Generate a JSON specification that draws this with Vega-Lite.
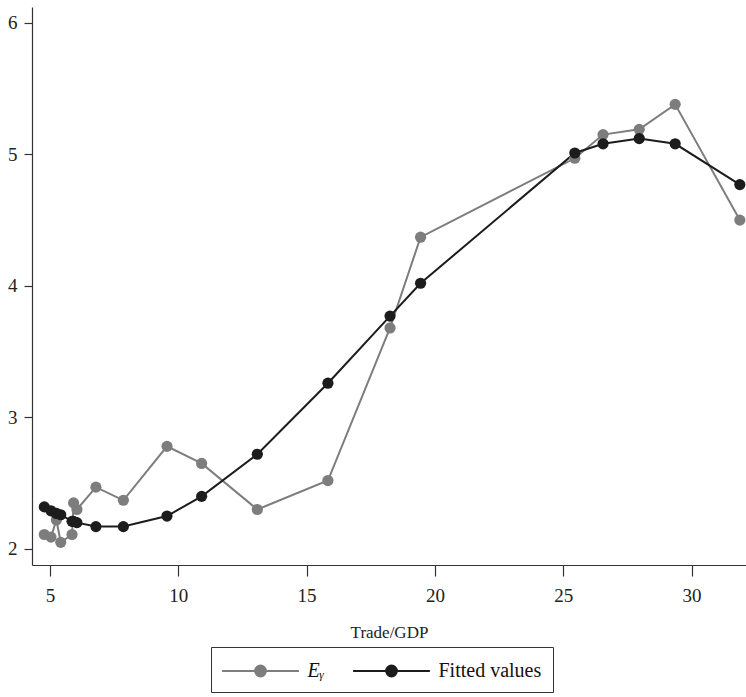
{
  "$schema": "https://vega.github.io/schema/vega-lite/v6.json",
  "width": 714,
  "height": 558,
  "autosize": {"type": "none"},
  "padding": {"left": 32, "top": 7, "right": 0, "bottom": 132},
  "background": "white",
  "data": {
    "values": [
      {"x": 4.78, "series": "Eᵧ", "y": 2.11},
      {"x": 5.04, "series": "Eᵧ", "y": 2.09},
      {"x": 5.25, "series": "Eᵧ", "y": 2.22},
      {"x": 5.42, "series": "Eᵧ", "y": 2.05},
      {"x": 5.86, "series": "Eᵧ", "y": 2.11},
      {"x": 5.92, "series": "Eᵧ", "y": 2.35},
      {"x": 6.05, "series": "Eᵧ", "y": 2.30},
      {"x": 6.79, "series": "Eᵧ", "y": 2.47},
      {"x": 7.86, "series": "Eᵧ", "y": 2.37},
      {"x": 9.56, "series": "Eᵧ", "y": 2.78},
      {"x": 10.91, "series": "Eᵧ", "y": 2.65},
      {"x": 13.08, "series": "Eᵧ", "y": 2.30},
      {"x": 15.83, "series": "Eᵧ", "y": 2.52},
      {"x": 18.25, "series": "Eᵧ", "y": 3.68},
      {"x": 19.44, "series": "Eᵧ", "y": 4.37},
      {"x": 25.45, "series": "Eᵧ", "y": 4.97},
      {"x": 26.55, "series": "Eᵧ", "y": 5.15},
      {"x": 27.96, "series": "Eᵧ", "y": 5.19},
      {"x": 29.36, "series": "Eᵧ", "y": 5.38},
      {"x": 31.88, "series": "Eᵧ", "y": 4.50},
      {"x": 4.78, "series": "Fitted values", "y": 2.32},
      {"x": 5.04, "series": "Fitted values", "y": 2.29},
      {"x": 5.25, "series": "Fitted values", "y": 2.27},
      {"x": 5.42, "series": "Fitted values", "y": 2.26},
      {"x": 5.86, "series": "Fitted values", "y": 2.21},
      {"x": 5.92, "series": "Fitted values", "y": 2.21},
      {"x": 6.05, "series": "Fitted values", "y": 2.20},
      {"x": 6.79, "series": "Fitted values", "y": 2.17},
      {"x": 7.86, "series": "Fitted values", "y": 2.17},
      {"x": 9.56, "series": "Fitted values", "y": 2.25},
      {"x": 10.91, "series": "Fitted values", "y": 2.40},
      {"x": 13.08, "series": "Fitted values", "y": 2.72},
      {"x": 15.83, "series": "Fitted values", "y": 3.26},
      {"x": 18.25, "series": "Fitted values", "y": 3.77},
      {"x": 19.44, "series": "Fitted values", "y": 4.02},
      {"x": 25.45, "series": "Fitted values", "y": 5.01},
      {"x": 26.55, "series": "Fitted values", "y": 5.08},
      {"x": 27.96, "series": "Fitted values", "y": 5.12},
      {"x": 29.36, "series": "Fitted values", "y": 5.08},
      {"x": 31.88, "series": "Fitted values", "y": 4.77}
    ]
  },
  "mark": {"type": "line", "strokeWidth": 2, "point": {"filled": true, "size": 125, "opacity": 1}},
  "encoding": {
    "x": {
      "field": "x", "type": "quantitative",
      "scale": {"domain": [4.3, 32.12], "nice": false, "zero": false},
      "axis": {"title": "Trade/GDP", "values": [5, 10, 15, 20, 25, 30], "tickSize": 11, "labelPadding": 10, "titlePadding": 19}
    },
    "y": {
      "field": "y", "type": "quantitative",
      "scale": {"domain": [1.878, 6.12], "nice": false, "zero": false},
      "axis": {"title": null, "values": [2, 3, 4, 5, 6], "tickSize": 8, "labelPadding": 7}
    },
    "color": {
      "field": "series", "type": "nominal",
      "scale": {"domain": ["Eᵧ", "Fitted values"], "range": ["#7d7d7d", "#1c1c1c"]},
      "legend": {
        "title": null,
        "orient": "none",
        "legendX": 179,
        "legendY": 640,
        "direction": "horizontal",
        "symbolSize": 576,
        "symbolOffset": 25.5,
        "labelOffset": 34,
        "columnPadding": 24,
        "padding": 11,
        "strokeColor": "#333",
        "fillColor": "white",
        "labelFont": "Liberation Serif",
        "labelFontSize": 20,
        "labelColor": "#111",
        "encode": {
          "symbols": {
            "update": {
              "shape": {"value": "M-3.2,0H3.2M-0.45,0A0.45,0.45,0,1,1,0.45,0A0.45,0.45,0,1,1,-0.45,0Z"},
              "size": {"value": 576},
              "fill": {"scale": "color", "field": "value"},
              "stroke": {"scale": "color", "field": "value"},
              "strokeWidth": {"value": 2},
              "opacity": {"value": 1}
            }
          },
          "labels": {
            "update": {
              "fontStyle": {"signal": "datum.value === 'Eᵧ' ? 'italic' : 'normal'"}
            }
          }
        }
      }
    }
  },
  "config": {
    "view": {"stroke": null},
    "axis": {
      "grid": false,
      "domainColor": "#333",
      "tickColor": "#333",
      "domainWidth": 1.2,
      "tickWidth": 1.2,
      "labelFont": "Liberation Serif",
      "labelFontSize": 19,
      "labelColor": "#222",
      "titleFont": "Liberation Serif",
      "titleFontSize": 17,
      "titleFontWeight": "normal",
      "titleColor": "#222"
    }
  }
}
